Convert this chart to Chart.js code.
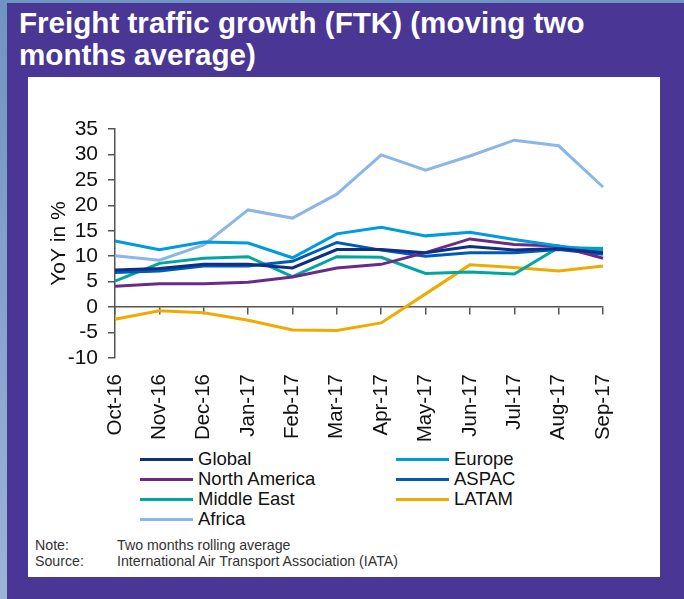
<!DOCTYPE html>
<html>
<head>
<meta charset="utf-8">
<script src="https://cdn.jsdelivr.net/npm/chart.js@4.4.0/dist/chart.umd.min.js"></script>
<style>
  html, body { margin: 0; padding: 0; }
  body {
    width: 684px; height: 599px; overflow: hidden; position: relative;
    background: linear-gradient(180deg, #6f93c2, #9db3d6);
    font-family: "Liberation Sans", Arial, sans-serif;
  }
  #frame {
    position: absolute; left: 7px; top: 3px; right: 0; bottom: 0;
    background: #4a3694;
  }
  #title {
    position: absolute; left: 19px; top: 7px;
    color: #fff; font-weight: bold; font-size: 29.6px; line-height: 32px;
  }
  #panel {
    position: absolute; left: 28px; top: 77px; width: 632px; height: 500px;
    background: #fff;
  }
  #chartBox { position: absolute; left: 0; top: 0; width: 632px; height: 371px; }
  #legend {
    position: absolute; left: 112px; top: 372px; width: 520px;
    display: grid; grid-template-columns: 256px 256px;
    font-size: 18.5px; line-height: 20px; color: #111;
  }
  .item { display: flex; align-items: center; height: 20px; }
  .item span.swatch { display: inline-block; width: 53px; height: 3px; margin-right: 5px; }
  #notes {
    position: absolute; left: 7px; top: 460px;
    font-size: 14.2px; line-height: 16px; color: #333;
  }
  #notes div span:first-child { display: inline-block; width: 82px; }
</style>
</head>
<body>
<div id="frame"></div>
<div id="title">Freight traffic growth (FTK) (moving two<br>months average)</div>
<div id="panel">
  <div id="chartBox"><canvas id="ftkChart"></canvas></div>
  <div id="legend"></div>
  <div id="notes">
    <div><span>Note:</span><span>Two months rolling average</span></div>
    <div><span>Source:</span><span>International Air Transport Association (IATA)</span></div>
  </div>
</div>
<script>
const months = ['Oct-16', 'Nov-16', 'Dec-16', 'Jan-17', 'Feb-17', 'Mar-17', 'Apr-17', 'May-17', 'Jun-17', 'Jul-17', 'Aug-17', 'Sep-17'];

const global       = [7.3, 7.6, 8.4, 8.4, 7.7, 11.3, 11.3, 10.7, 11.9, 11.2, 11.5, 10.7];
const europe       = [13.0, 11.3, 12.8, 12.6, 9.7, 14.4, 15.7, 14.0, 14.7, 13.3, 12.0, 11.0];
const northAmerica = [4.1, 4.6, 4.6, 4.9, 5.9, 7.7, 8.4, 10.7, 13.4, 12.3, 12.0, 9.6];
const aspac        = [6.8, 7.1, 8.1, 8.1, 9.0, 12.7, 11.2, 10.0, 10.7, 10.7, 11.3, 10.4];
const middleEast   = [5.1, 8.6, 9.6, 9.9, 6.0, 9.9, 9.8, 6.6, 6.9, 6.5, 11.7, 11.5];
const latam        = [-2.4, -0.7, -1.1, -2.6, -4.5, -4.6, -3.1, 2.6, 8.3, 7.8, 7.1, 8.1];
const africa       = [10.1, 9.2, 12.2, 19.1, 17.5, 22.2, 29.9, 26.9, 29.7, 32.8, 31.7, 23.6];

const regions = ['Global', 'Europe', 'North America', 'ASPAC', 'Middle East', 'LATAM', 'Africa'];
const series  = [global, europe, northAmerica, aspac, middleEast, latam, africa];
const colors  = ['#0f2f86', '#009ade', '#6b2a8a', '#005ab8', '#00a6a0', '#f0aa00', '#8cb6e6'];

const yTicks = { min: -10, max: 35, step: 5 };

const font = 'Liberation Sans';

const datasets = regions.map((name, i) => ({
    label: name,
    data: series[i],
    borderColor: colors[i],
    backgroundColor: colors[i],
    borderWidth: 3,
    pointRadius: 0,
    tension: 0,
    xAxisID: 'x',
    yAxisID: 'y'
}));

const ctx = document.getElementById('ftkChart');

const ftkChart = new Chart(ctx, {
    type: 'line',
    data: { labels: months, datasets: datasets },
    options: {
        responsive: true,
        maintainAspectRatio: false,
        animation: false,
        layout: { padding: { top: 52, left: 19, right: 57, bottom: 0 } },
        plugins: {
            legend: { display: false },
            tooltip: { enabled: false }
        },
        scales: {
            x: {
                type: 'category',
                position: 'bottom',
                offset: false,
                grid: { display: false },
                border: { display: false },
                ticks: {
                    minRotation: 90,
                    maxRotation: 90,
                    autoSkip: false,
                    padding: 8,
                    color: '#111',
                    font: { family: font, size: 20.5 }
                },
                afterFit: (scale) => { scale.height = 90; }
            },
            xZero: {
                type: 'category',
                axis: 'x',
                labels: months,
                position: { y: 0 },
                offset: false,
                grid: { drawOnChartArea: false, drawTicks: true, tickLength: 7, color: '#555', lineWidth: 1.5 },
                border: { display: true, color: '#555', width: 1.5 },
                ticks: { display: false, autoSkip: false }
            },
            y: {
                min: yTicks.min,
                max: yTicks.max,
                grid: { drawOnChartArea: false, drawTicks: true, tickLength: 7, color: '#555', lineWidth: 1.5 },
                border: { display: true, color: '#555', width: 1.5 },
                ticks: {
                    stepSize: yTicks.step,
                    autoSkip: false,
                    padding: 10,
                    color: '#111',
                    font: { family: font, size: 21 }
                },
                title: {
                    display: true,
                    text: 'YoY in %',
                    color: '#111',
                    padding: 0,
                    font: { family: font, size: 21 }
                },
                afterFit: (scale) => { scale.width = 68; }
            }
        }
    }
});

// legend in two columns, same order as the datasets
const legendBox = document.getElementById('legend');
ftkChart.data.datasets.forEach((ds) => {
    const item = document.createElement('div');
    item.className = 'item';
    const sw = document.createElement('span');
    sw.className = 'swatch';
    sw.style.background = ds.borderColor;
    const txt = document.createElement('span');
    txt.textContent = ds.label;
    item.appendChild(sw);
    item.appendChild(txt);
    legendBox.appendChild(item);
});
</script>
</body>
</html>
